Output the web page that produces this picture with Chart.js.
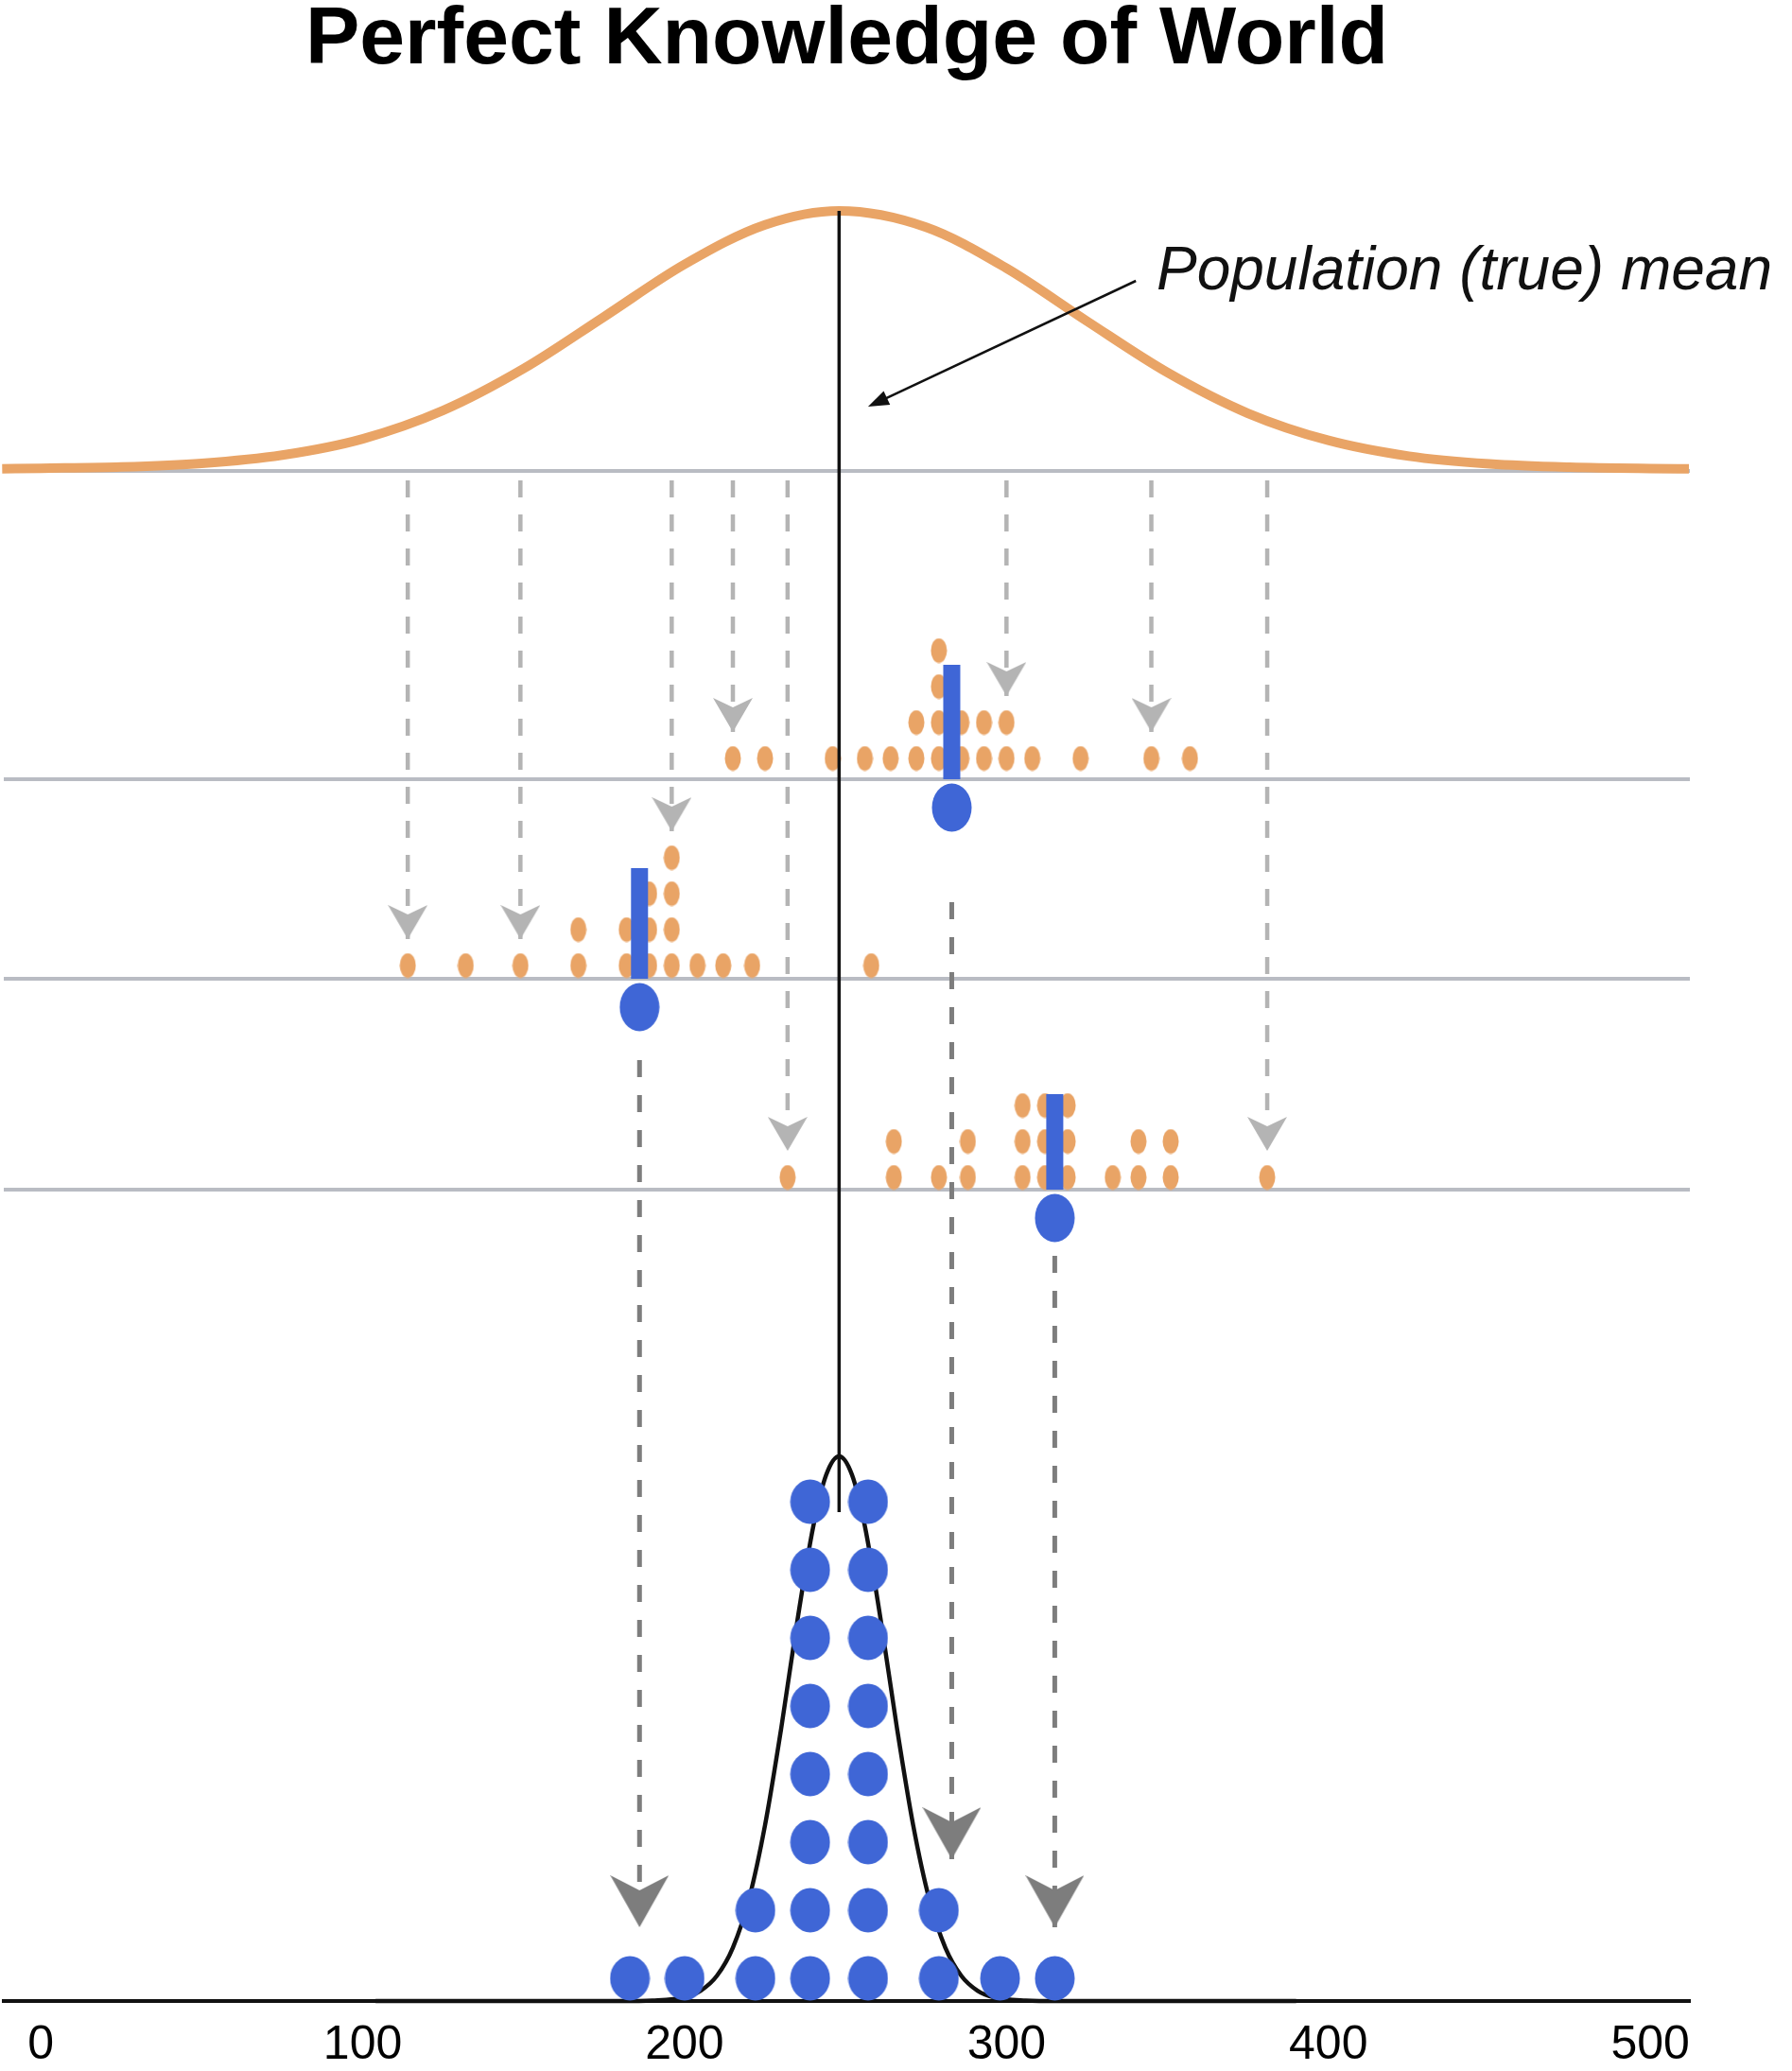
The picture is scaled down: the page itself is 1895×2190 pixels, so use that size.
<!DOCTYPE html>
<html>
<head>
<meta charset="utf-8">
<title>Perfect Knowledge of World</title>
<script src="https://cdn.jsdelivr.net/npm/chart.js@4.4.1/dist/chart.umd.min.js"></script>
<style>
  html, body { margin: 0; padding: 0; background: #ffffff; }
  #wrap { width: 1895px; height: 2190px; }
</style>
</head>
<body>
<div id="wrap"><canvas id="chart" width="1895" height="2190"></canvas></div>
<script>
// ---------- values ----------
const tickValues = [0, 100, 200, 300, 400, 500];
const populationMean = 248;

// population distribution (height as percent of its peak)
const populationX = [-12, 0, 25, 50, 75, 100, 125, 150, 175, 200, 225, 248, 275, 300, 325, 350, 375, 400, 425, 450, 475, 500, 512];
const populationHeight = [0.1, 0.3, 0.8, 2.2, 5.4, 11.7, 22.7, 38.9, 59.0, 79.3, 94.6, 100, 93.7, 77.8, 57.3, 37.4, 21.6, 11.1, 5.0, 2.0, 0.7, 0.2, 0.1];

// sampling distribution of the mean (height as percent of its peak)
const samplingX = [104, 180, 190, 200, 205, 210, 215, 220, 225, 230, 235, 240, 244, 248, 252, 256, 261, 266, 271, 276, 281, 286, 291, 296, 306, 316, 390];
const samplingHeight = [0, 0, 0.1, 0.7, 1.9, 4.6, 9.8, 18.7, 32.3, 50.0, 69.7, 87.2, 96.6, 100, 96.6, 87.2, 69.7, 50.0, 32.3, 18.7, 9.8, 4.6, 1.9, 0.7, 0.1, 0, 0];

// three samples drawn from the population
const sampleA = [215, 225, 246, 256, 264, 272, 272, 279, 279, 279, 279, 286, 286, 293, 293, 300, 300, 308, 323, 345, 357];
const sampleB = [114, 132, 149, 167, 167, 182, 182, 189, 189, 189, 196, 196, 196, 196, 204, 212, 221, 258];
const sampleC = [232, 265, 265, 279, 288, 288, 305, 305, 305, 312, 312, 312, 319, 319, 319, 333, 341, 341, 351, 351, 381];
const sampleMeans = [283, 186, 315];

// sample means gathered over many samples
const meanBins = [183, 200, 222, 239, 257, 279, 298, 315];
const meanCounts = [1, 1, 2, 8, 8, 2, 1, 1];

// draws from the population into a sample: [sample index, value]
const drawLinks = [[1, 114], [1, 149], [1, 196], [0, 215], [2, 232], [0, 300], [0, 345], [2, 381]];
// sample means dropped onto the sampling distribution: [sample index, bin index]
const meanLinks = [[1, 0], [0, 5], [2, 7]];

// ---------- layout (vertical units are pixels above the axis line) ----------
const X_MIN = -11.5, X_MAX = 512.3, Y_MAX = 1986;
const AXIS_HEIGHT = 72;
const POP_BASE = 1620, POP_SCALE = 2.73, POP_RULE = 1618;
const SAMPLE_BASE = [1292, 1081, 858];
const SAMPLE_LIFT = [22, 14, 13];
const STACK_STEP = 38;
const MARKER_BAR = [121, 117, 101];
const MARKER_DROP = 30;
const MEAN_ARROW_START = [100, 56, 40];
const DIST_SCALE = 5.76;
const DOT_LIFT = 24, DOT_STEP = 72;
const DRAW_START = 1608, DRAW_GAP = 28, MEAN_GAP = 54;
const MEAN_LINE_BOTTOM = 517;

const FONT = "'Liberation Sans', Arial, Helvetica, sans-serif";
const ORANGE = '#e9a466', BLUE = '#3f66d6', RULE_GREY = '#b9bcc3';
const LIGHT_ARROW = '#b4b4b4', DARK_ARROW = '#7d7d7d', INK = '#111111';

const annotation = {
  text: 'Population (true) mean',
  x: 346.6, y: 1810,
  from: { x: 340.2, y: 1819 },
  to: { x: 257, y: 1686 }
};

// ---------- marker images ----------
function ellipse(w, h, color) {
  const c = document.createElement('canvas');
  c.width = w; c.height = h;
  const g = c.getContext('2d');
  g.fillStyle = color;
  g.beginPath();
  g.ellipse(w / 2, h / 2, w / 2 - 0.5, h / 2 - 0.5, 0, 0, Math.PI * 2);
  g.fill();
  return c;
}
// arrow head pointing down, tip at the centre of the image
function arrowHead(w, len, notch, color) {
  const c = document.createElement('canvas');
  c.width = w; c.height = len * 2;
  const g = c.getContext('2d');
  g.fillStyle = color;
  g.beginPath();
  g.moveTo(0, 0);
  g.lineTo(w / 2, notch);
  g.lineTo(w, 0);
  g.lineTo(w / 2, len);
  g.closePath();
  g.fill();
  return c;
}
const orangeDot = ellipse(18, 27, ORANGE);
const blueMeanDot = ellipse(43, 52, BLUE);
const blueDot = ellipse(43, 48, BLUE);
const lightHead = arrowHead(42, 36, 10, LIGHT_ARROW);
const darkHead = arrowHead(62, 55, 16, DARK_ARROW);

// ---------- datasets ----------
const samples = [sampleA, sampleB, sampleC];
function stacked(values) {
  const seen = {};
  return values.map(v => { const k = seen[v] || 0; seen[v] = k + 1; return { v, level: k }; });
}
function topLevel(values, v) { return values.filter(u => u === v).length - 1; }

function lineDS(data, color, width, order, extra) {
  return Object.assign({
    data, showLine: true, borderColor: color, backgroundColor: color,
    borderWidth: width, pointRadius: 0, order, clip: false, fill: false
  }, extra || {});
}

const datasets = [];

// baselines
[POP_RULE, ...SAMPLE_BASE].forEach(b =>
  datasets.push(lineDS([{ x: X_MIN, y: b }, { x: X_MAX, y: b }], RULE_GREY, 4, 20)));

// population curve
datasets.push(lineDS(
  populationX.map((x, i) => ({ x, y: POP_BASE + populationHeight[i] * POP_SCALE })),
  ORANGE, 10, 19, { cubicInterpolationMode: 'monotone' }));

// draws from population into samples
drawLinks.forEach(([s, v]) => {
  const tip = SAMPLE_BASE[s] + SAMPLE_LIFT[s] + topLevel(samples[s], v) * STACK_STEP + DRAW_GAP;
  datasets.push(lineDS([{ x: v, y: DRAW_START }, { x: v, y: tip }], LIGHT_ARROW, 4.5, 18, {
    borderDash: [18, 18],
    pointRadius: [0, 4],
    pointStyle: ['circle', lightHead]
  }));
});

// sample dot plots
samples.forEach((vals, s) => {
  datasets.push({
    data: stacked(vals).map(p => ({ x: p.v, y: SAMPLE_BASE[s] + SAMPLE_LIFT[s] + p.level * STACK_STEP })),
    showLine: false, pointStyle: orangeDot, pointRadius: 8, order: 17, clip: false
  });
});

// population mean line
datasets.push(lineDS(
  [{ x: populationMean, y: POP_BASE + 100 * POP_SCALE }, { x: populationMean, y: MEAN_LINE_BOTTOM }],
  INK, 3.5, 16));

// sample mean markers
sampleMeans.forEach((m, s) => {
  datasets.push(lineDS([{ x: m, y: SAMPLE_BASE[s] }, { x: m, y: SAMPLE_BASE[s] + MARKER_BAR[s] }],
    BLUE, 18, 15, { borderCapStyle: 'butt' }));
});
datasets.push({
  data: sampleMeans.map((m, s) => ({ x: m, y: SAMPLE_BASE[s] - MARKER_DROP })),
  showLine: false, pointStyle: blueMeanDot, pointRadius: 20, order: 14, clip: false
});

// sample means dropped to the sampling distribution
meanLinks.forEach(([s, b]) => {
  const start = SAMPLE_BASE[s] - MARKER_DROP - MEAN_ARROW_START[s];
  const tip = DOT_LIFT + (meanCounts[b] - 1) * DOT_STEP + MEAN_GAP;
  datasets.push(lineDS([{ x: sampleMeans[s], y: start }, { x: sampleMeans[s], y: tip }], DARK_ARROW, 5, 13, {
    borderDash: [18, 19],
    pointRadius: [0, 4],
    pointStyle: ['circle', darkHead]
  }));
});

// sampling distribution curve
datasets.push(lineDS(
  samplingX.map((x, i) => ({ x, y: samplingHeight[i] * DIST_SCALE })),
  INK, 4.5, 12, { cubicInterpolationMode: 'monotone' }));

// stacked sample means
const meanDots = [];
meanBins.forEach((x, i) => {
  for (let k = 0; k < meanCounts[i]; k++) meanDots.push({ x, y: DOT_LIFT + k * DOT_STEP });
});
datasets.push({ data: meanDots, showLine: false, pointStyle: blueDot, pointRadius: 20, order: 11, clip: false });

// ---------- annotation ----------
const annotationPlugin = {
  id: 'meanAnnotation',
  afterDatasetsDraw(chart) {
    const { ctx } = chart;
    const sx = chart.scales.x, sy = chart.scales.y;
    const fx = sx.getPixelForValue(annotation.from.x), fy = sy.getPixelForValue(annotation.from.y);
    const tx = sx.getPixelForValue(annotation.to.x), ty = sy.getPixelForValue(annotation.to.y);
    const a = Math.atan2(ty - fy, tx - fx), c = Math.cos(a), s = Math.sin(a);
    const len = 22, half = 8;
    ctx.save();
    ctx.strokeStyle = INK;
    ctx.fillStyle = INK;
    ctx.lineWidth = 2.5;
    ctx.beginPath();
    ctx.moveTo(fx, fy);
    ctx.lineTo(tx - c * len * 0.8, ty - s * len * 0.8);
    ctx.stroke();
    const bx = tx - c * len, by = ty - s * len;
    ctx.beginPath();
    ctx.moveTo(tx, ty);
    ctx.lineTo(bx - s * half, by + c * half);
    ctx.lineTo(bx + s * half, by - c * half);
    ctx.closePath();
    ctx.fill();
    ctx.font = 'italic 64px ' + FONT;
    ctx.textAlign = 'left';
    ctx.textBaseline = 'alphabetic';
    ctx.fillText(annotation.text, sx.getPixelForValue(annotation.x), sy.getPixelForValue(annotation.y));
    ctx.restore();
  }
};

new Chart(document.getElementById('chart').getContext('2d'), {
  type: 'scatter',
  data: { datasets },
  options: {
    responsive: false,
    animation: false,
    devicePixelRatio: 1,
    events: [],
    layout: { autoPadding: false, padding: { left: 4, right: 108, top: 0, bottom: 2 } },
    plugins: {
      legend: { display: false },
      tooltip: { enabled: false },
      title: {
        display: true,
        text: 'Perfect Knowledge of World',
        color: '#000000',
        font: { family: FONT, size: 86, weight: 'bold', lineHeight: 1 },
        padding: { top: 0, bottom: 44 }
      }
    },
    scales: {
      x: {
        type: 'linear',
        min: X_MIN,
        max: X_MAX,
        afterBuildTicks: scale => { scale.ticks = tickValues.map(v => ({ value: v })); },
        afterFit: scale => {
          scale.paddingLeft = 0;
          scale.paddingRight = 0;
          scale.height = AXIS_HEIGHT;
        },
        grid: { display: false, drawTicks: false },
        border: { display: true, color: INK, width: 4 },
        ticks: { padding: 22, color: '#000000', font: { family: FONT, size: 50, lineHeight: 1 } }
      },
      y: { type: 'linear', min: 0, max: Y_MAX, display: false }
    }
  },
  plugins: [annotationPlugin]
});
</script>
</body>
</html>
